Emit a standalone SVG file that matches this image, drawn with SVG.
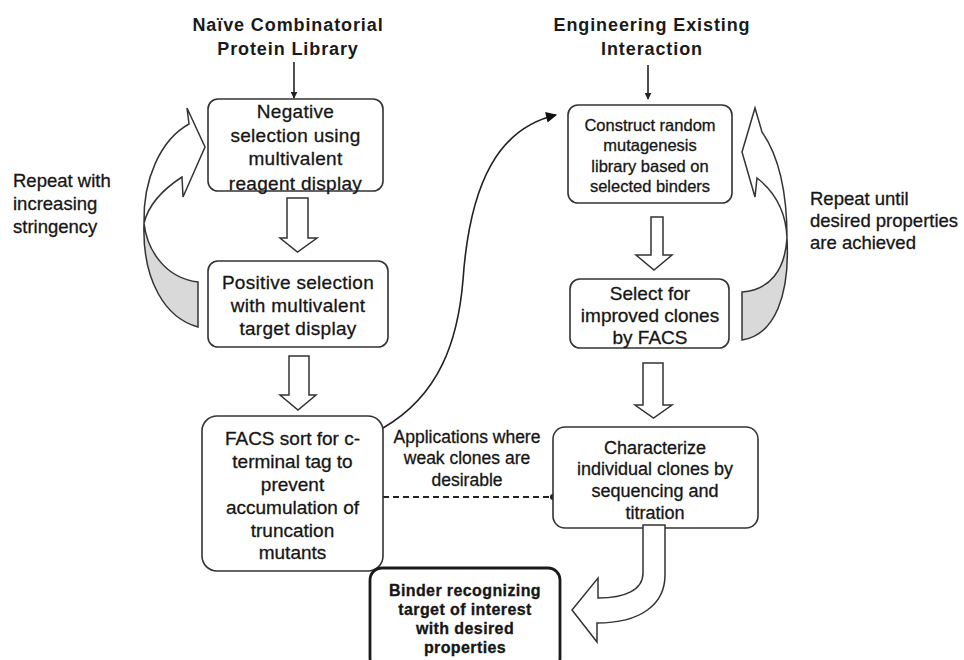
<svg xmlns="http://www.w3.org/2000/svg" width="964" height="660" viewBox="0 0 964 660">
<defs>
<marker id="ah" viewBox="0 0 10 10" refX="9" refY="5" markerWidth="7" markerHeight="7" markerUnits="userSpaceOnUse" orient="auto"><path d="M0,0 L10,5 L0,10 Z" fill="#222"/></marker>
<marker id="ah2" viewBox="0 0 10 10" refX="9" refY="5" markerWidth="12" markerHeight="11" markerUnits="userSpaceOnUse" orient="auto"><path d="M0,0 L10,5 L0,10 Z" fill="#111"/></marker>
</defs>
<style>
.box{fill:#fff;stroke:#333;stroke-width:1.6}
.bold{fill:#fff;stroke:#1a1a1a;stroke-width:2.8}
.t{font-family:"Liberation Sans",Arial,sans-serif;fill:#161616;stroke:#161616;stroke-width:0.3;text-anchor:middle}
.tl{font-family:"Liberation Sans",Arial,sans-serif;fill:#161616;stroke:#161616;stroke-width:0.3}
.ttl{font-family:"Liberation Sans",Arial,sans-serif;font-weight:bold;fill:#1a1a1a;text-anchor:middle;font-size:18px;letter-spacing:0.9px}
.hol{fill:#fff;stroke:#333;stroke-width:1.5;stroke-linejoin:miter}
.gray{fill:#d9d9d9;stroke:#333;stroke-width:1.5}
.ln{fill:none;stroke:#222;stroke-width:1.6}
</style>
<rect width="964" height="660" fill="#fff"/>

<g id="title-left">
<text class="ttl" x="288" y="31">Naïve Combinatorial</text>
<text class="ttl" x="288" y="55">Protein Library</text>
</g>
<g id="title-right">
<text class="ttl" x="652" y="31">Engineering Existing</text>
<text class="ttl" x="652" y="55">Interaction</text>
</g>

<g id="repeat-left-label">
<text class="tl" font-size="18.5" x="13" y="187">Repeat with</text>
<text class="tl" font-size="18.5" x="13" y="210">increasing</text>
<text class="tl" font-size="18.5" x="13" y="233">stringency</text>
</g>
<g id="repeat-right-label">
<text class="tl" font-size="18.5" x="810" y="205">Repeat until</text>
<text class="tl" font-size="18.5" x="810" y="227">desired properties</text>
<text class="tl" font-size="18.5" x="810" y="249">are achieved</text>
</g>

<g id="connectors">
<line class="ln" x1="294" y1="62" x2="294" y2="98" marker-end="url(#ah)"/>
<line class="ln" x1="648" y1="65" x2="648" y2="99" marker-end="url(#ah)"/>
<path class="ln" d="M383,428 C440,395 458,340 463,280 C470,180 500,128 556,115" stroke-width="2" marker-end="url(#ah2)"/>
<line x1="383" y1="497" x2="553" y2="497" stroke="#222" stroke-width="2" stroke-dasharray="6,4"/>
<circle cx="553" cy="497" r="3" fill="#222"/>
<!-- hollow block arrows -->
<path class="hol" d="M287,198 H308 V238 H317 L297.5,252 L280,238 H287 Z"/>
<path class="hol" d="M289,356 H309 V395 H316 L298,410 L280,395 H289 Z"/>
<path class="hol" d="M651,217 H663 V255 H672 L654,270 L636,255 H651 Z"/>
<path class="hol" d="M643,363 H663 V405 H672 L653.5,418 L635,405 H643 Z"/>
<!-- repeat arrows -->
<path class="gray" d="M144,223 C147,250 165,278 198,282 L198,327 C165,318 142,280 144,223 Z"/>
<path class="hol" d="M144,223 C143,180 160,140 189,124 L187,108 L205,147 L183,197 L182,177 C165,188 149,203 144,223 Z"/>
<path class="gray" d="M787,238 C785,270 770,290 742,292 L742,340 C775,335 790,295 787,238 Z"/>
<path class="hol" d="M787,238 C787,190 778,155 762,132 L755,108 L742,152 L755,197 L757,178 C775,192 786,212 787,238 Z"/>
</g>

<g id="n1">
<rect class="box" x="208" y="99" width="175" height="92" rx="10"/>
<text class="t" font-size="19" letter-spacing="0.3" x="295.5" y="118">Negative</text>
<text class="t" font-size="19" letter-spacing="0.3" x="295.5" y="142">selection using</text>
<text class="t" font-size="19" letter-spacing="0.3" x="295.5" y="165">multivalent</text>
<text class="t" font-size="19" letter-spacing="0.3" x="295.5" y="190">reagent display</text>
</g>
<g id="n2">
<rect class="box" x="208" y="261" width="180" height="86" rx="10"/>
<text class="t" font-size="19" letter-spacing="0.3" x="298" y="289">Positive selection</text>
<text class="t" font-size="19" letter-spacing="0.3" x="298" y="312">with multivalent</text>
<text class="t" font-size="19" letter-spacing="0.3" x="298" y="335">target display</text>
</g>
<g id="n3">
<rect class="box" x="202" y="416" width="181" height="155" rx="15"/>
<text class="t" font-size="19" x="292.5" y="445">FACS sort for c-</text>
<text class="t" font-size="19" x="292.5" y="468">terminal tag to</text>
<text class="t" font-size="19" x="292.5" y="491">prevent</text>
<text class="t" font-size="19" x="292.5" y="514">accumulation of</text>
<text class="t" font-size="19" x="292.5" y="537">truncation</text>
<text class="t" font-size="19" x="292.5" y="559">mutants</text>
</g>
<g id="n4">
<rect class="box" x="568" y="105" width="164" height="98" rx="10"/>
<text class="t" font-size="16.5" x="650" y="131">Construct random</text>
<text class="t" font-size="16.5" x="650" y="151">mutagenesis</text>
<text class="t" font-size="16.5" x="650" y="172">library based on</text>
<text class="t" font-size="16.5" x="650" y="192">selected binders</text>
</g>
<g id="n5">
<rect class="box" x="570" y="279" width="159" height="69" rx="10"/>
<text class="t" font-size="19" x="650" y="300">Select for</text>
<text class="t" font-size="19" x="650" y="322">improved clones</text>
<text class="t" font-size="19" x="650" y="344">by FACS</text>
</g>
<g id="n6">
<rect class="box" x="553" y="427" width="205" height="101" rx="12"/>
<text class="t" font-size="18" x="655" y="453.5">Characterize</text>
<text class="t" font-size="18" x="655" y="474.5">individual clones by</text>
<text class="t" font-size="18" x="655" y="496.5">sequencing and</text>
<text class="t" font-size="18" x="655" y="518.5">titration</text>
</g>
<g id="label-weak">
<text class="t" font-size="17.5" x="467" y="443">Applications where</text>
<text class="t" font-size="17.5" x="467" y="464">weak clones are</text>
<text class="t" font-size="17.5" x="467" y="486">desirable</text>
</g>
<g id="n7">
<rect class="bold" x="370" y="568" width="190" height="102" rx="12"/>
<text class="t" font-size="16" font-weight="bold" letter-spacing="0.4" stroke-width="0" x="465" y="596">Binder recognizing</text>
<text class="t" font-size="16" font-weight="bold" letter-spacing="0.4" stroke-width="0" x="465" y="615">target of interest</text>
<text class="t" font-size="16" font-weight="bold" letter-spacing="0.4" stroke-width="0" x="465" y="634">with desired</text>
<text class="t" font-size="16" font-weight="bold" letter-spacing="0.4" stroke-width="0" x="465" y="653">properties</text>
</g>
<g id="arrow-final">
<path class="hol" d="M643,525 L643,573 C643,590 625,598 598,598 L598,578 L572,610 L597,642 L597,623 C640,623 665,605 665,575 L665,525 Z"/>
</g>
</svg>
